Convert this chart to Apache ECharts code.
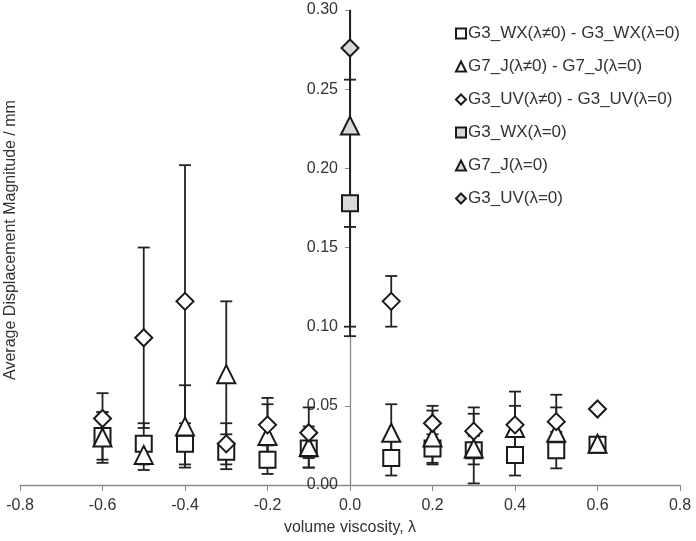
<!DOCTYPE html>
<html>
<head>
<meta charset="utf-8">
<script src="https://cdn.jsdelivr.net/npm/echarts@6/dist/echarts.min.js"></script>
<style>
html,body{margin:0;padding:0;background:#fff;}
#chart{width:696px;height:541px;}
</style>
</head>
<body>
<div id="chart"></div>
<script>
// ---- data ----
const lambdaVals = [-0.6, -0.5, -0.4, -0.3, -0.2, -0.1, 0.1, 0.2, 0.3, 0.4, 0.5, 0.6];
const wxDiff    = [0.031, 0.026, 0.026, 0.021, 0.016, 0.023, 0.017, 0.023, 0.022, 0.019, 0.022, 0.0255];
const wxDiffErr = [0.015, 0.013, 0.013, 0.011, 0.009, 0.012, 0.011, 0.009, 0.009, 0.013, 0.0115, null];
const jDiff     = [0.030, 0.019, 0.037, 0.070, 0.031, 0.024, 0.033, 0.030, 0.023, 0.036, 0.033, 0.026];
const jDiffErr  = [0.016, 0.0095, 0.026, 0.046, 0.020, 0.013, 0.018, 0.017, 0.022, 0.014, 0.016, null];
const uvDiff    = [0.042, 0.093, 0.116, 0.026, 0.038, 0.033, 0.116, 0.039, 0.034, 0.038, 0.040, 0.048];
const uvDiffErr = [0.016, 0.057, 0.086, 0.013, 0.017, 0.016, 0.016, 0.011, 0.015, 0.021, 0.017, null];

const lambdaZero = [0.0];
const wxZero     = [0.178];
const wxZeroErr  = [0.078];
const jZero      = [0.227];
const jZeroErr   = [0.133];
const uvZero     = [0.276];
const uvZeroErr  = [0.113];

const seriesNames = [
  'G3_WX(λ≠0) - G3_WX(λ=0)',
  'G7_J(λ≠0) - G7_J(λ=0)',
  'G3_UV(λ≠0) - G3_UV(λ=0)',
  'G3_WX(λ=0)',
  'G7_J(λ=0)',
  'G3_UV(λ=0)'
];
const xTitle = 'volume viscosity, λ';
const yTitle = 'Average Displacement Magnitude / mm';

// ---- helpers ----
const FONT = 'Liberation Sans, Arial, sans-serif';
function pts(xs, ys) { return xs.map((x, i) => [x, ys[i]]); }
function errs(xs, ys, es) {
  const out = [];
  xs.forEach((x, i) => { if (es[i] != null) out.push([x, ys[i] - es[i], ys[i] + es[i]]); });
  return out;
}
function errRender(params, api) {
  const x = api.value(0), lo = api.value(1), hi = api.value(2);
  const a = api.coord([x, hi]), b = api.coord([x, lo]);
  const cw = 6;
  const st = { stroke: '#222', lineWidth: 1.8 };
  return {
    type: 'group',
    children: [
      { type: 'line', shape: { x1: a[0], y1: a[1], x2: b[0], y2: b[1] }, style: st },
      { type: 'line', shape: { x1: a[0] - cw, y1: a[1], x2: a[0] + cw, y2: a[1] }, style: st },
      { type: 'line', shape: { x1: b[0] - cw, y1: b[1], x2: b[0] + cw, y2: b[1] }, style: st }
    ]
  };
}
function errSeries(data) {
  return { type: 'custom', renderItem: errRender, data: data, clip: true, silent: true,
           encode: { x: 0, y: [1, 2] }, z: 2 };
}
function markSeries(name, data, symbol, size, fill) {
  return { name: name, type: 'scatter', data: data, symbol: symbol, symbolSize: size, z: 3,
           itemStyle: { color: fill, borderColor: '#1a1a1a', borderWidth: 2, opacity: 1 } };
}

const chart = echarts.init(document.getElementById('chart'));
chart.setOption({
  animation: false,
  backgroundColor: '#fff',
  grid: { left: 20, right: 16, top: 10, bottom: 54 },
  xAxis: {
    type: 'value', min: -0.8, max: 0.8, interval: 0.2,
    axisLine: { onZero: true, lineStyle: { color: '#8a8a8a', width: 1.3 } },
    axisTick: { show: true, length: 6, lineStyle: { color: '#8a8a8a' } },
    axisLabel: { color: '#333', fontFamily: FONT, fontSize: 16, margin: 13,
                 formatter: v => v.toFixed(1) },
    splitLine: { show: false },
    name: xTitle, nameLocation: 'middle', nameGap: 35,
    nameTextStyle: { color: '#333', fontFamily: FONT, fontSize: 16 }
  },
  yAxis: {
    type: 'value', min: 0, max: 0.3, interval: 0.05,
    position: 'left', offset: -330,
    axisLine: { onZero: false, lineStyle: { color: '#8a8a8a', width: 1.3 } },
    axisTick: { show: true, length: 5, lineStyle: { color: '#8a8a8a' } },
    axisLabel: { color: '#333', fontFamily: FONT, fontSize: 16, margin: 12,
                 formatter: v => v.toFixed(2) },
    splitLine: { show: false }
  },
  legend: {
    orient: 'vertical', left: 450, top: 20,
    itemWidth: 10, itemHeight: 10, itemGap: 16,
    data: seriesNames,
    textStyle: { color: '#333', fontFamily: FONT, fontSize: 17, padding: [0, 0, 0, -3] }
  },
  graphic: [{
    type: 'text', x: 11, y: 240, rotation: Math.PI / 2,
    style: { text: yTitle, fill: '#333', font: '16px ' + FONT, align: 'center', verticalAlign: 'middle' }
  }],
  series: [
    errSeries(errs(lambdaVals, wxDiff, wxDiffErr)),
    markSeries(seriesNames[0], pts(lambdaVals, wxDiff), 'rect', 16, '#fff'),
    errSeries(errs(lambdaVals, jDiff, jDiffErr)),
    markSeries(seriesNames[1], pts(lambdaVals, jDiff), 'triangle', 18, '#fff'),
    errSeries(errs(lambdaVals, uvDiff, uvDiffErr)),
    markSeries(seriesNames[2], pts(lambdaVals, uvDiff), 'diamond', 17, '#fff'),
    errSeries(errs(lambdaZero, wxZero, wxZeroErr)),
    markSeries(seriesNames[3], pts(lambdaZero, wxZero), 'rect', 16, '#d9d9d9'),
    errSeries(errs(lambdaZero, jZero, jZeroErr)),
    markSeries(seriesNames[4], pts(lambdaZero, jZero), 'triangle', 18, '#d9d9d9'),
    errSeries(errs(lambdaZero, uvZero, uvZeroErr)),
    markSeries(seriesNames[5], pts(lambdaZero, uvZero), 'diamond', 17, '#d9d9d9')
  ]
});
</script>
</body>
</html>
